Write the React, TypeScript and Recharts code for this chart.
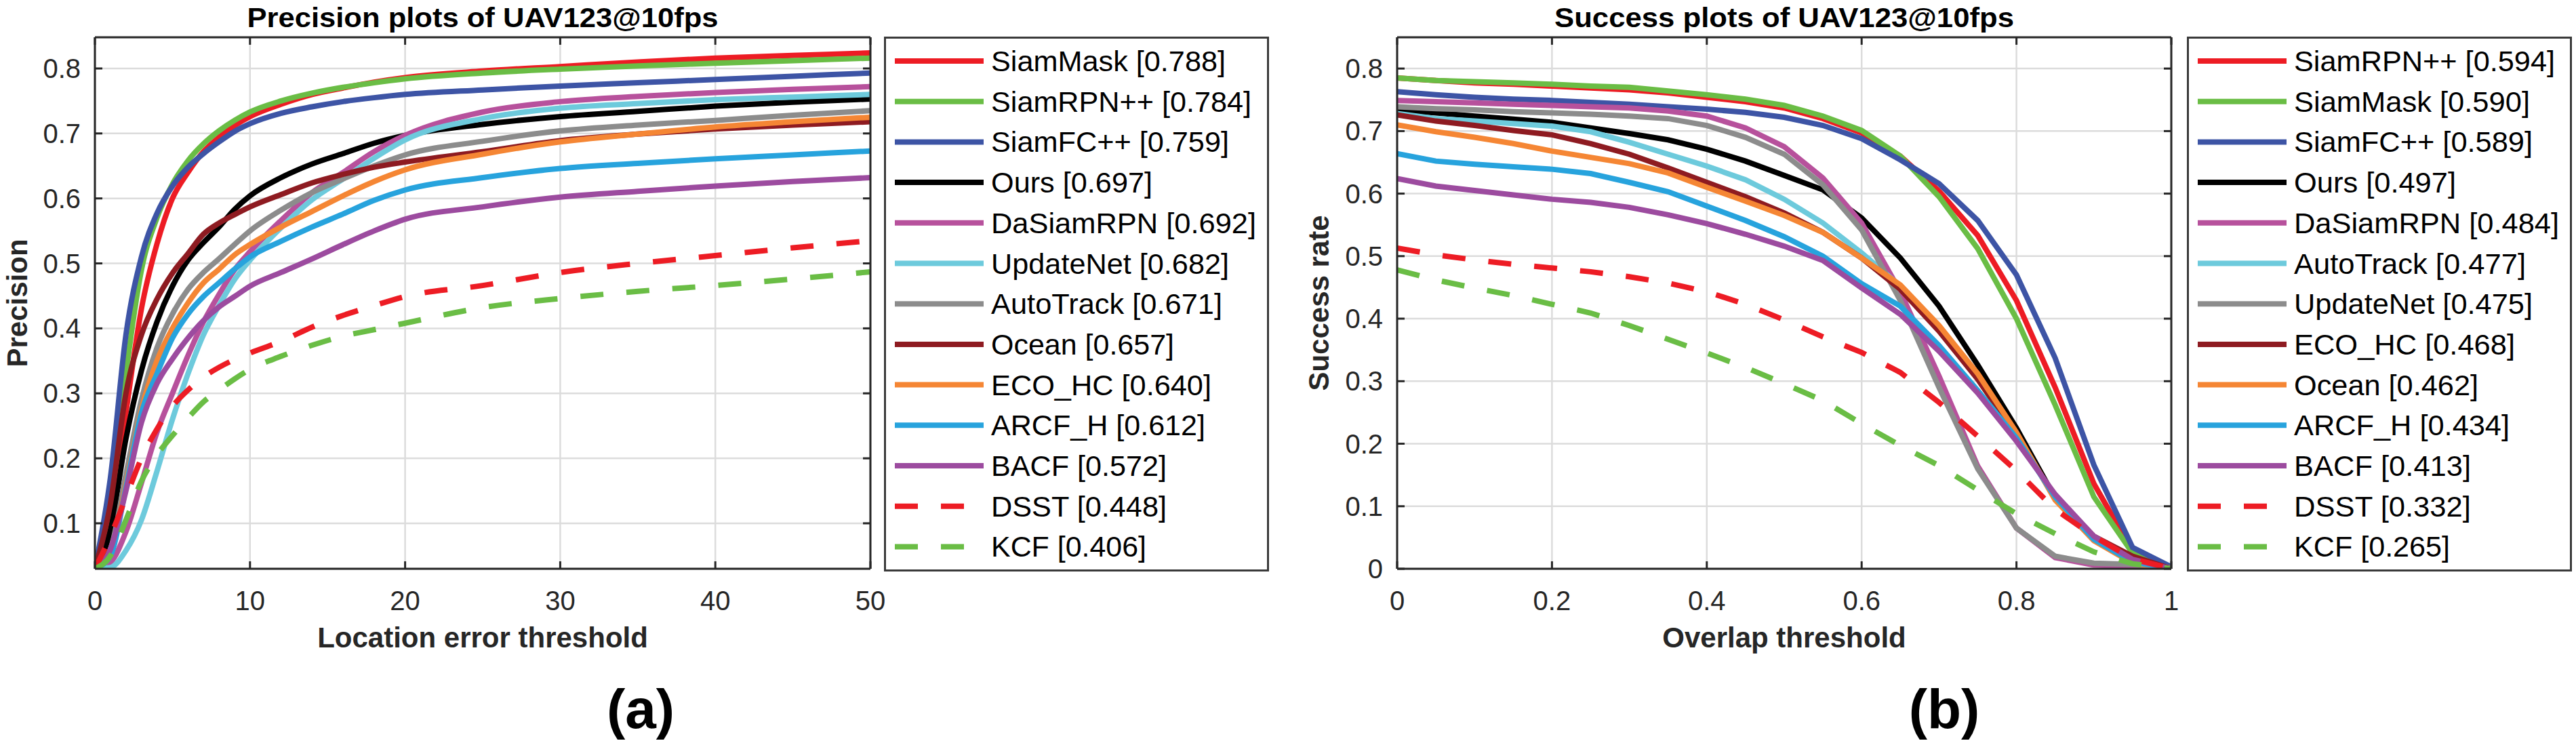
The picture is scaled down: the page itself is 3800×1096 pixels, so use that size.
import React from 'react';
import { LineChart, Line, XAxis, YAxis, CartesianGrid, Legend } from 'recharts';

const FONT = '"Liberation Sans", Arial, Helvetica, sans-serif';
const AXIS = '#262626';

// ---- (a) precision plot: location error threshold 0..50 ----
const precisionThresholds = [0, 1, 2, 3, 4, 5, 6, 7, 8, 9, 10, 12, 14, 16, 18, 20, 25, 30, 35, 40, 45, 50];
const precSiamMask = [0.03, 0.09, 0.27, 0.43, 0.53, 0.6, 0.64, 0.672, 0.694, 0.712, 0.726, 0.745, 0.76, 0.77, 0.779, 0.786, 0.796, 0.803, 0.81, 0.816, 0.82, 0.824];
const precSiamRPNpp = [0.03, 0.12, 0.33, 0.49, 0.57, 0.622, 0.658, 0.684, 0.704, 0.72, 0.733, 0.75, 0.762, 0.771, 0.778, 0.784, 0.793, 0.799, 0.804, 0.808, 0.812, 0.816];
const precSiamFCpp = [0.03, 0.17, 0.39, 0.51, 0.577, 0.619, 0.648, 0.669, 0.687, 0.703, 0.715, 0.731, 0.741, 0.749, 0.755, 0.76, 0.767, 0.773, 0.778, 0.783, 0.788, 0.793];
const precOurs = [0.03, 0.09, 0.23, 0.335, 0.41, 0.465, 0.505, 0.532, 0.556, 0.583, 0.604, 0.632, 0.653, 0.669, 0.685, 0.697, 0.714, 0.726, 0.734, 0.742, 0.748, 0.753];
const precDaSiamRPN = [0.03, 0.04, 0.087, 0.162, 0.24, 0.3, 0.358, 0.41, 0.452, 0.49, 0.518, 0.566, 0.609, 0.64, 0.672, 0.697, 0.733, 0.749, 0.757, 0.763, 0.768, 0.772];
const precUpdateNet = [0.03, 0.032, 0.058, 0.105, 0.18, 0.26, 0.33, 0.39, 0.435, 0.475, 0.505, 0.555, 0.598, 0.63, 0.662, 0.69, 0.723, 0.739, 0.746, 0.752, 0.756, 0.76];
const precAutoTrack = [0.03, 0.06, 0.175, 0.29, 0.37, 0.422, 0.46, 0.486, 0.507, 0.529, 0.55, 0.582, 0.609, 0.63, 0.65, 0.667, 0.688, 0.704, 0.713, 0.72, 0.728, 0.735];
const precOcean = [0.03, 0.13, 0.3, 0.39, 0.445, 0.485, 0.515, 0.545, 0.562, 0.575, 0.587, 0.606, 0.624, 0.637, 0.648, 0.656, 0.672, 0.689, 0.699, 0.707, 0.713, 0.718];
const precECOHC = [0.03, 0.055, 0.16, 0.275, 0.35, 0.4, 0.439, 0.47, 0.491, 0.513, 0.529, 0.556, 0.58, 0.604, 0.626, 0.644, 0.668, 0.687, 0.699, 0.71, 0.718, 0.725];
const precARCFH = [0.03, 0.05, 0.155, 0.27, 0.33, 0.385, 0.422, 0.449, 0.47, 0.491, 0.51, 0.534, 0.556, 0.576, 0.597, 0.613, 0.632, 0.646, 0.654, 0.661, 0.667, 0.673];
const precBACF = [0.03, 0.06, 0.15, 0.255, 0.315, 0.353, 0.385, 0.412, 0.433, 0.449, 0.465, 0.486, 0.507, 0.529, 0.55, 0.568, 0.587, 0.602, 0.611, 0.619, 0.626, 0.632];
const precDSST = [0.03, 0.08, 0.14, 0.2, 0.245, 0.28, 0.305, 0.325, 0.34, 0.352, 0.362, 0.38, 0.402, 0.42, 0.435, 0.449, 0.466, 0.486, 0.5, 0.512, 0.524, 0.535];
const precKCF = [0.03, 0.05, 0.105, 0.165, 0.205, 0.235, 0.262, 0.287, 0.305, 0.322, 0.337, 0.357, 0.374, 0.388, 0.398, 0.408, 0.432, 0.446, 0.457, 0.466, 0.476, 0.487];
const precXTicks = [0, 10, 20, 30, 40, 50];
const precYTicks = [0.1, 0.2, 0.3, 0.4, 0.5, 0.6, 0.7, 0.8];

// ---- (b) success plot: overlap threshold 0..1 ----
const overlapThresholds = [0, 0.05, 0.1, 0.15, 0.2, 0.25, 0.3, 0.35, 0.4, 0.45, 0.5, 0.55, 0.6, 0.65, 0.7, 0.75, 0.8, 0.85, 0.9, 0.95, 1];
const succSiamRPNpp = [0.785, 0.781, 0.777, 0.775, 0.772, 0.769, 0.766, 0.761, 0.754, 0.747, 0.737, 0.72, 0.697, 0.66, 0.604, 0.533, 0.429, 0.29, 0.136, 0.028, 0];
const succSiamMask = [0.785, 0.781, 0.779, 0.777, 0.775, 0.772, 0.77, 0.764, 0.758, 0.751, 0.741, 0.724, 0.701, 0.66, 0.595, 0.512, 0.4, 0.262, 0.115, 0.025, 0];
const succSiamFCpp = [0.763, 0.758, 0.754, 0.751, 0.749, 0.746, 0.743, 0.739, 0.735, 0.73, 0.722, 0.709, 0.688, 0.654, 0.616, 0.557, 0.47, 0.337, 0.166, 0.034, 0.003];
const succOurs = [0.734, 0.729, 0.724, 0.719, 0.714, 0.705, 0.696, 0.686, 0.671, 0.652, 0.629, 0.606, 0.561, 0.497, 0.42, 0.326, 0.225, 0.113, 0.047, 0.011, 0];
const succDaSiamRPN = [0.749, 0.747, 0.745, 0.743, 0.741, 0.739, 0.737, 0.732, 0.724, 0.705, 0.675, 0.625, 0.553, 0.443, 0.308, 0.164, 0.065, 0.018, 0.006, 0.004, 0];
const succAutoTrack = [0.728, 0.72, 0.716, 0.712, 0.708, 0.699, 0.682, 0.663, 0.644, 0.622, 0.591, 0.553, 0.505, 0.452, 0.385, 0.305, 0.215, 0.112, 0.046, 0.011, 0];
const succUpdateNet = [0.739, 0.736, 0.734, 0.731, 0.729, 0.727, 0.724, 0.72, 0.709, 0.69, 0.663, 0.614, 0.542, 0.429, 0.29, 0.16, 0.065, 0.02, 0.009, 0.007, 0.002];
const succECOHC = [0.726, 0.716, 0.709, 0.701, 0.694, 0.68, 0.663, 0.641, 0.618, 0.595, 0.569, 0.538, 0.497, 0.447, 0.38, 0.303, 0.213, 0.115, 0.052, 0.02, 0];
const succOcean = [0.71, 0.699, 0.69, 0.68, 0.668, 0.658, 0.648, 0.633, 0.61, 0.588, 0.565, 0.538, 0.497, 0.454, 0.389, 0.312, 0.218, 0.11, 0.045, 0.009, 0];
const succARCFH = [0.664, 0.652, 0.647, 0.643, 0.639, 0.632, 0.618, 0.603, 0.58, 0.557, 0.531, 0.5, 0.456, 0.42, 0.357, 0.285, 0.209, 0.115, 0.047, 0.011, 0];
const succBACF = [0.624, 0.612, 0.605, 0.598, 0.591, 0.586, 0.578, 0.566, 0.552, 0.535, 0.516, 0.493, 0.449, 0.407, 0.348, 0.281, 0.204, 0.119, 0.052, 0.015, 0];
const succDSST = [0.513, 0.502, 0.494, 0.487, 0.481, 0.475, 0.467, 0.457, 0.443, 0.423, 0.398, 0.371, 0.346, 0.314, 0.266, 0.212, 0.157, 0.095, 0.052, 0.016, 0];
const succKCF = [0.478, 0.462, 0.449, 0.437, 0.423, 0.409, 0.389, 0.367, 0.345, 0.322, 0.296, 0.269, 0.232, 0.197, 0.165, 0.126, 0.088, 0.056, 0.027, 0.008, 0];
const succXTicks = [0, 0.2, 0.4, 0.6, 0.8, 1];
const succYTicks = [0, 0.1, 0.2, 0.3, 0.4, 0.5, 0.6, 0.7, 0.8];

const C = {
  red: '#ED1C24',
  green: '#6ABD45',
  blue: '#3D54A5',
  black: '#000000',
  pink: '#B7519C',
  cyan: '#6DCADC',
  gray: '#8C8C8C',
  darkred: '#8E1B21',
  orange: '#F58634',
  lightblue: '#27A3DD',
  purple: '#9C4B9F',
};

// rendered width (px) of each legend entry's text, matched to the figure
const precLegendTextWidths = [346, 384, 351, 238, 391, 351, 341, 270, 325, 316, 259, 259, 229];
const succLegendTextWidths = [385, 348, 352, 239, 391, 342, 352, 326, 272, 318, 261, 261, 230];

type Series = { key: string; name: string; color: string; dashed?: boolean; values: number[] };

const precisionSeries: Series[] = [
  { key: 's1', name: 'SiamMask [0.788]', color: C.red, values: precSiamMask },
  { key: 's2', name: 'SiamRPN++ [0.784]', color: C.green, values: precSiamRPNpp },
  { key: 's3', name: 'SiamFC++ [0.759]', color: C.blue, values: precSiamFCpp },
  { key: 's4', name: 'Ours [0.697]', color: C.black, values: precOurs },
  { key: 's5', name: 'DaSiamRPN [0.692]', color: C.pink, values: precDaSiamRPN },
  { key: 's6', name: 'UpdateNet [0.682]', color: C.cyan, values: precUpdateNet },
  { key: 's7', name: 'AutoTrack [0.671]', color: C.gray, values: precAutoTrack },
  { key: 's8', name: 'Ocean [0.657]', color: C.darkred, values: precOcean },
  { key: 's9', name: 'ECO_HC [0.640]', color: C.orange, values: precECOHC },
  { key: 's10', name: 'ARCF_H [0.612]', color: C.lightblue, values: precARCFH },
  { key: 's11', name: 'BACF [0.572]', color: C.purple, values: precBACF },
  { key: 's12', name: 'DSST [0.448]', color: C.red, dashed: true, values: precDSST },
  { key: 's13', name: 'KCF [0.406]', color: C.green, dashed: true, values: precKCF },
];

const successSeries: Series[] = [
  { key: 's1', name: 'SiamRPN++ [0.594]', color: C.red, values: succSiamRPNpp },
  { key: 's2', name: 'SiamMask [0.590]', color: C.green, values: succSiamMask },
  { key: 's3', name: 'SiamFC++ [0.589]', color: C.blue, values: succSiamFCpp },
  { key: 's4', name: 'Ours [0.497]', color: C.black, values: succOurs },
  { key: 's5', name: 'DaSiamRPN [0.484]', color: C.pink, values: succDaSiamRPN },
  { key: 's6', name: 'AutoTrack [0.477]', color: C.cyan, values: succAutoTrack },
  { key: 's7', name: 'UpdateNet [0.475]', color: C.gray, values: succUpdateNet },
  { key: 's8', name: 'ECO_HC [0.468]', color: C.darkred, values: succECOHC },
  { key: 's9', name: 'Ocean [0.462]', color: C.orange, values: succOcean },
  { key: 's10', name: 'ARCF_H [0.434]', color: C.lightblue, values: succARCFH },
  { key: 's11', name: 'BACF [0.413]', color: C.purple, values: succBACF },
  { key: 's12', name: 'DSST [0.332]', color: C.red, dashed: true, values: succDSST },
  { key: 's13', name: 'KCF [0.265]', color: C.green, dashed: true, values: succKCF },
];

function buildRows(xs: number[], series: Series[]) {
  return xs.map((t, i) => {
    const row: Record<string, number> = { t };
    series.forEach((s) => {
      row[s.key] = s.values[i];
    });
    return row;
  });
}

const PLOT_TOP = 55;
const PLOT_BOTTOM = 839;
const CHART_W = 1900;
const CHART_H = 1096;
const DASH = '34 34';
const X_AXIS_H = 60;
const Y_AXIS_W = 60;

// bottom axis: y is the axis line position (tickSize/tickMargin are 0)
const BottomTick = (props: any) => {
  const { x, y, payload } = props;
  return (
    <g>
      <line x1={x} x2={x} y1={y} y2={y - 11} stroke={AXIS} strokeWidth={3} />
      <text x={x} y={y + 61} textAnchor="middle" fontSize={40} fontFamily={FONT} fill={AXIS}>
        {String(payload.value)}
      </text>
    </g>
  );
};

const LeftTick = (props: any) => {
  const { x, y, payload } = props;
  return (
    <g>
      <line x1={x} x2={x + 11} y1={y} y2={y} stroke={AXIS} strokeWidth={3} />
      <text x={x - 21} y={y + 14} textAnchor="end" fontSize={40} fontFamily={FONT} fill={AXIS}>
        {String(payload.value)}
      </text>
    </g>
  );
};

const TopTick = (props: any) => {
  const { x, y } = props;
  return <line x1={x} x2={x} y1={y} y2={y + 11} stroke={AXIS} strokeWidth={3} />;
};

const RightTick = (props: any) => {
  const { x, y } = props;
  return <line x1={x} x2={x - 11} y1={y} y2={y} stroke={AXIS} strokeWidth={3} />;
};

const FixedText = (props: any) => {
  const { tx, ty, text, rotate } = props;
  return (
    <text
      x={tx}
      y={ty}
      textAnchor="middle"
      fontSize={42}
      fontWeight="bold"
      fontFamily={FONT}
      fill={AXIS}
      transform={rotate ? `rotate(-90 ${tx} ${ty})` : undefined}
    >
      {text}
    </text>
  );
};

function LegendBox({ series, textWidths }: { series: Series[]; textWidths: number[] }) {
  const w = 568;
  const h = 789;
  return (
    <div style={{ width: w, height: h, border: '3px solid #3a3a3a', boxSizing: 'border-box', background: '#fff' }}>
      <svg width={w - 6} height={h - 6} style={{ display: 'block' }}>
        {series.map((s, i) => {
          const cy = 33 + i * 59.7;
          return (
            <g key={s.key}>
              <line
                x1={13}
                x2={144}
                y1={cy}
                y2={cy}
                stroke={s.color}
                strokeWidth={8}
                strokeDasharray={s.dashed ? DASH : undefined}
              />
              <text
                x={155}
                y={cy + 15}
                fontSize={42}
                fontFamily={FONT}
                fill="#000"
                textLength={textWidths[i]}
                lengthAdjust="spacingAndGlyphs"
              >
                {s.name}
              </text>
            </g>
          );
        })}
      </svg>
    </div>
  );
}

type PanelProps = {
  rows: Record<string, number>[];
  series: Series[];
  legendTextWidths: number[];
  xTicks: number[];
  xDomain: [number, number];
  yTicks: number[];
  yDomain: [number, number];
  plotLeft: number;
  plotRight: number;
  xLabel: string;
  yLabel: string;
  yLabelX: number;
  curve: 'monotone' | 'linear';
  legendLeft: number;
};

function Panel(p: PanelProps) {
  const centerX = (p.plotLeft + p.plotRight) / 2;
  return (
    <LineChart
      width={CHART_W}
      height={CHART_H}
      data={p.rows}
      margin={{
        top: PLOT_TOP - 1,
        left: p.plotLeft - Y_AXIS_W,
        right: CHART_W - p.plotRight - 1,
        bottom: CHART_H - PLOT_BOTTOM - X_AXIS_H,
      }}
    >
      <CartesianGrid stroke="#dcdcdc" strokeWidth={2.5} />
      <XAxis
        dataKey="t"
        type="number"
        domain={p.xDomain}
        ticks={p.xTicks}
        interval={0}
        height={X_AXIS_H}
        tickSize={0}
        tickMargin={0}
        tickLine={false}
        axisLine={{ stroke: AXIS, strokeWidth: 3 }}
        tick={BottomTick}
        allowDataOverflow
        label={(lp: any) => <FixedText {...lp} tx={centerX} ty={955} text={p.xLabel} />}
      />
      <XAxis
        xAxisId="top"
        orientation="top"
        dataKey="t"
        type="number"
        domain={p.xDomain}
        ticks={p.xTicks}
        interval={0}
        height={1}
        tickSize={0}
        tickMargin={0}
        tickLine={false}
        axisLine={{ stroke: AXIS, strokeWidth: 3 }}
        tick={TopTick}
        allowDataOverflow
      />
      <YAxis
        type="number"
        domain={p.yDomain}
        ticks={p.yTicks}
        interval={0}
        width={Y_AXIS_W}
        tickSize={0}
        tickMargin={0}
        tickLine={false}
        axisLine={{ stroke: AXIS, strokeWidth: 3 }}
        tick={LeftTick}
        allowDataOverflow
        label={(lp: any) => <FixedText {...lp} tx={p.yLabelX} ty={447} text={p.yLabel} rotate />}
      />
      <YAxis
        yAxisId="right"
        orientation="right"
        type="number"
        domain={p.yDomain}
        ticks={p.yTicks}
        interval={0}
        width={1}
        tickSize={0}
        tickMargin={0}
        tickLine={false}
        axisLine={{ stroke: AXIS, strokeWidth: 3 }}
        tick={RightTick}
        allowDataOverflow
      />
      {p.series.map((s) => (
        <Line
          key={s.key}
          type={p.curve}
          dataKey={s.key}
          name={s.name}
          stroke={s.color}
          strokeWidth={8}
          strokeDasharray={s.dashed ? DASH : undefined}
          dot={false}
          activeDot={false}
          isAnimationActive={false}
        />
      ))}
      <Legend
        layout="vertical"
        align="center"
        verticalAlign="middle"
        wrapperStyle={{ left: p.legendLeft, top: 54, width: 568, height: 789 }}
        content={() => <LegendBox series={p.series} textWidths={p.legendTextWidths} />}
      />
    </LineChart>
  );
}

const precisionRows = buildRows(precisionThresholds, precisionSeries);
const successRows = buildRows(overlapThresholds, successSeries);

export default function App() {
  return (
    <div style={{ position: 'absolute', left: 0, top: 0, width: 3800, height: 1096, background: '#fff', overflow: 'hidden' }}>
      <div style={{ position: 'absolute', left: 0, top: 0 }}>
        <Panel
          rows={precisionRows}
          series={precisionSeries}
          legendTextWidths={precLegendTextWidths}
          xTicks={precXTicks}
          xDomain={[0, 50]}
          yTicks={precYTicks}
          yDomain={[0.03, 0.848]}
          plotLeft={140}
          plotRight={1284}
          xLabel="Location error threshold"
          yLabel="Precision"
          yLabelX={40}
          curve="monotone"
          legendLeft={1304}
        />
      </div>
      <div style={{ position: 'absolute', left: 1900, top: 0 }}>
        <Panel
          rows={successRows}
          series={successSeries}
          legendTextWidths={succLegendTextWidths}
          xTicks={succXTicks}
          xDomain={[0, 1]}
          yTicks={succYTicks}
          yDomain={[0, 0.85]}
          plotLeft={161}
          plotRight={1303}
          xLabel="Overlap threshold"
          yLabel="Success rate"
          yLabelX={60}
          curve="linear"
          legendLeft={1326}
        />
      </div>
      <svg width={3800} height={1096} style={{ position: 'absolute', left: 0, top: 0, pointerEvents: 'none' }}>
        <text x={712} y={40} textAnchor="middle" fontSize={41} fontWeight="bold" fontFamily={FONT} fill="#000"
          textLength={695} lengthAdjust="spacingAndGlyphs">
          Precision plots of UAV123@10fps
        </text>
        <text x={2632} y={40} textAnchor="middle" fontSize={41} fontWeight="bold" fontFamily={FONT} fill="#000"
          textLength={678} lengthAdjust="spacingAndGlyphs">
          Success plots of UAV123@10fps
        </text>
        <text x={945} y={1074} textAnchor="middle" fontSize={82} fontWeight="bold" fontFamily={FONT} fill="#000">
          (a)
        </text>
        <text x={2868} y={1074} textAnchor="middle" fontSize={82} fontWeight="bold" fontFamily={FONT} fill="#000">
          (b)
        </text>
      </svg>
    </div>
  );
}
